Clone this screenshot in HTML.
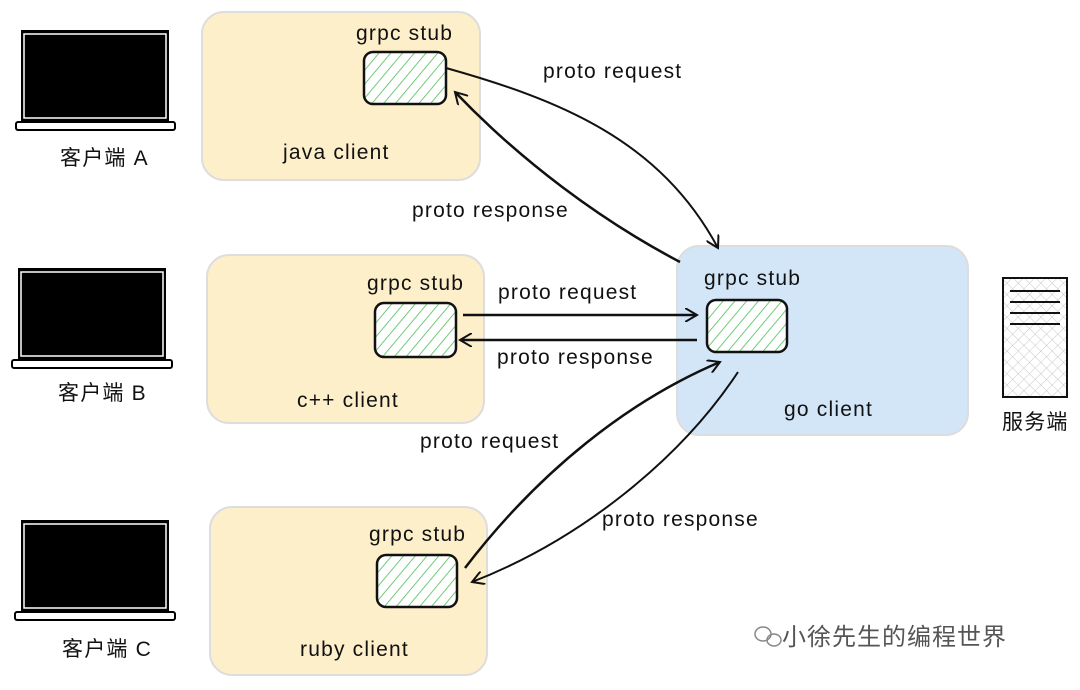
<!DOCTYPE html>
<html><head><meta charset="utf-8"><style>
body{margin:0;background:#fff;width:1080px;height:685px;overflow:hidden}
text{font-family:"Liberation Sans","Noto Sans CJK SC",sans-serif;font-size:21px;fill:#111;letter-spacing:1.2px}
</style></head><body>
<svg width="1080" height="685" viewBox="0 0 1080 685" xmlns="http://www.w3.org/2000/svg">
<defs>
<pattern id="h" width="9" height="9" patternUnits="userSpaceOnUse" patternTransform="rotate(40)">
<rect width="9" height="9" fill="#fff"/><line x1="0" y1="0" x2="0" y2="9" stroke="#4cbf55" stroke-width="1.6"/></pattern>
<pattern id="x" width="8" height="8" patternUnits="userSpaceOnUse" patternTransform="rotate(45)">
<line x1="0" y1="0" x2="0" y2="8" stroke="#bbb" stroke-width="0.8"/><line x1="0" y1="0" x2="8" y2="0" stroke="#bbb" stroke-width="0.8"/></pattern>
<marker id="a" markerWidth="14" markerHeight="14" refX="12" refY="7" orient="auto" markerUnits="userSpaceOnUse">
<path d="M0,0 L12,7 L0,14" fill="none" stroke="#111" stroke-width="2"/></marker>
</defs>
<g stroke="#ddd" stroke-width="2">
<rect x="202" y="12" width="278" height="168" rx="22" fill="#fdefc9"/>
<rect x="207" y="255" width="277" height="168" rx="22" fill="#fdefc9"/>
<rect x="210" y="507" width="277" height="168" rx="22" fill="#fdefc9"/>
<rect x="677" y="246" width="291" height="189" rx="22" fill="#d3e6f8"/>
</g>
<g stroke="#111" stroke-width="2.5">
<rect x="364" y="52" width="82" height="52" rx="9" fill="url(#h)"/>
<rect x="375" y="303" width="81" height="54" rx="9" fill="url(#h)"/>
<rect x="377" y="555" width="80" height="52" rx="9" fill="url(#h)"/>
<rect x="707" y="300" width="80" height="52" rx="9" fill="url(#h)"/>
</g>
<g>
<rect x="21" y="30" width="148" height="92" fill="#000"/><rect x="24" y="34" width="142" height="84" fill="none" stroke="#fff" stroke-width="1.5"/>
<rect x="16" y="122" width="159" height="8" rx="2" fill="#fff" stroke="#000" stroke-width="2"/>
<rect x="18" y="268" width="148" height="92" fill="#000"/><rect x="21" y="272" width="142" height="84" fill="none" stroke="#fff" stroke-width="1.5"/>
<rect x="12" y="360" width="160" height="8" rx="2" fill="#fff" stroke="#000" stroke-width="2"/>
<rect x="21" y="520" width="148" height="92" fill="#000"/><rect x="24" y="524" width="142" height="84" fill="none" stroke="#fff" stroke-width="1.5"/>
<rect x="15" y="612" width="160" height="8" rx="2" fill="#fff" stroke="#000" stroke-width="2"/>
</g>
<rect x="1003" y="278" width="64" height="119" fill="url(#x)" stroke="#111" stroke-width="2"/>
<g stroke="#111" stroke-width="2"><line x1="1010" y1="291" x2="1060" y2="291"/><line x1="1010" y1="302" x2="1060" y2="302"/><line x1="1010" y1="313" x2="1060" y2="313"/><line x1="1010" y1="324" x2="1060" y2="324"/></g>
<g fill="none" stroke="#111" stroke-width="2" marker-end="url(#a)">
<path d="M446,68 C560,100 660,140 718,248"/>
<path d="M680,262 C600,220 520,160 455,92" stroke-width="2.5"/>
<path d="M463,315 L697,315" stroke-width="2.5"/>
<path d="M697,340 L460,340" stroke-width="2.5"/>
<path d="M465,568 C540,470 630,400 720,362" stroke-width="2.5"/>
<path d="M738,372 C680,460 580,540 472,582"/>
</g>
<g>
<text x="356" y="40">grpc stub</text>
<text x="367" y="290">grpc stub</text>
<text x="369" y="541">grpc stub</text>
<text x="704" y="285">grpc stub</text>
<text x="283" y="159">java client</text>
<text x="297" y="407">c++ client</text>
<text x="300" y="656">ruby client</text>
<text x="784" y="416">go client</text>
<text x="543" y="78">proto request</text>
<text x="412" y="217">proto response</text>
<text x="498" y="299">proto request</text>
<text x="497" y="364">proto response</text>
<text x="420" y="448">proto request</text>
<text x="602" y="526">proto response</text>
<text x="60" y="165">客户端 A</text>
<text x="58" y="400">客户端 B</text>
<text x="62" y="656">客户端 C</text>
<text x="1002" y="429">服务端</text>
<text x="782" y="645" style="font-size:24px;fill:#555;letter-spacing:1px">小徐先生的编程世界</text>
</g>
<g fill="none" stroke="#888" stroke-width="1.5"><ellipse cx="763" cy="634" rx="8" ry="7"/><ellipse cx="774" cy="640" rx="7" ry="6"/></g>
</svg>
</body></html>
